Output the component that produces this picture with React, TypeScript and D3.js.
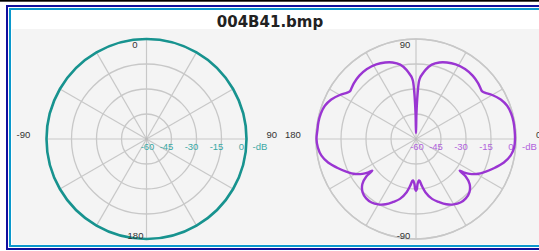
import React from "react";
import * as d3 from "d3";

const title = "004B41.bmp";
const ringTicks = [-60, -45, -30, -15, 0];

// Left chart: constant 0 dB all around (degrees clockwise from top)
const leftAngles = [0, 30, 60, 90, 120, 150, 180, 210, 240, 270, 300, 330];
const leftDb = [0, 0, 0, 0, 0, 0, 0, 0, 0, 0, 0, 0];
const leftLabels = ["0", "90", "180", "-90"];

// Right chart: degrees counter-clockwise from right
const rightAngles = [
  -175, -170, -165, -160, -155, -150, -147, -145, -144, -143, -140, -135, -130, -125, -120, -115, -110, -105, -100, -97, -95, -94, -92, -91,
  -90, -89, -88, -86, -85, -83, -80, -75, -70, -65, -60, -55, -50, -45, -40, -37, -36, -35, -33, -30, -25, -20, -15, -10, -5,
  0, 5, 10, 15, 20, 25, 30, 34, 36, 38, 42, 48, 55, 62, 68, 73, 78, 82, 85, 86, 87, 88, 89,
  90, 91, 92, 93, 94, 95, 98, 102, 107, 112, 118, 125, 132, 138, 142, 144, 146, 150, 155, 160, 165, 170, 175, 180,
];
const rightDb = [
  -0.9, -2.4, -5.4, -9.6, -13.8, -18, -21.6, -25.2, -27.6, -22.8, -18, -14.7, -13.5, -13.5, -14.7, -16.8, -19.8, -22.8, -27.6, -31.8, -34.8, -35.1, -33, -30,
  -28.8, -30, -33, -35.1, -34.8, -31.8, -27.6, -22.8, -19.8, -16.8, -14.7, -13.5, -13.5, -14.7, -18, -22.8, -27.6, -25.2, -21.6, -18, -13.8, -9.6, -5.4, -2.4, -0.9,
  -0.6, -0.6, -0.6, -0.9, -1.8, -3.9, -7.2, -10.2, -11.1, -10.8, -9.9, -9, -8.7, -9.3, -10.5, -12, -14.4, -18, -21.6, -22.8, -25.2, -33, -45,
  -56.4, -45, -33, -25.2, -22.8, -21.6, -18, -14.4, -12, -10.5, -9.3, -8.7, -9, -9.9, -10.8, -11.1, -10.2, -7.2, -3.9, -1.8, -0.9, -0.6, -0.6, -0.3,
];
const rightLabels = ["90", "0", "-90", "180"];

const R = 100;
const rScale = d3.scaleLinear().domain([-60, 0]).range([0, R]);
const spokes = d3.range(0, 360, 30);

function Grid({ cx, cy, color }: { cx: number; cy: number; color: string }) {
  return (
    <g transform={`translate(${cx},${cy})`}>
      {ringTicks.slice(1).map((t) => (
        <circle key={t} r={rScale(t)} fill="none" stroke="#c8c8c8" strokeWidth={1.3} />
      ))}
      {spokes.map((a) => {
        const rad = (a * Math.PI) / 180;
        return (
          <line key={a} x1={0} y1={0} x2={R * Math.cos(rad)} y2={R * Math.sin(rad)} stroke="#c8c8c8" strokeWidth={1.2} />
        );
      })}
      <circle r={1.5} fill="#bbb" />
      {ringTicks.map((t) => (
        <text
          key={t}
          x={t === -60 ? 1 : rScale(t) - 5}
          y={11}
          textAnchor="middle"
          fontFamily="Liberation Sans, Arial, sans-serif"
          fontSize={9.5}
          fill={color}
        >
          {t}
        </text>
      ))}
      <text x={106} y={11} fontFamily="Liberation Sans, Arial, sans-serif" fontSize={9.5} fill={color}>
        -dB
      </text>
    </g>
  );
}

export default function App() {
  const lcx = 146.5, lcy = 139, rcx = 416, rcy = 139;
  const leftLine = d3
    .lineRadial<number>()
    .angle((_, i) => (leftAngles[i] * Math.PI) / 180)
    .radius((d) => rScale(d))
    .curve(d3.curveCardinalClosed.tension(0));
  const rightLine = d3
    .lineRadial<number>()
    .angle((_, i) => ((90 - rightAngles[i]) * Math.PI) / 180)
    .radius((d) => rScale(d))
    .curve(d3.curveCatmullRomClosed.alpha(0.5));
  const lab = { fontFamily: "Liberation Sans, Arial, sans-serif", fontSize: 9.5, fill: "#333" };
  const teal = "#17938f";
  const purple = "#9a35d2";
  return (
    <svg width={539} height={251} style={{ position: "absolute", left: 0, top: 0 }}>
      <rect x={0} y={0} width={539} height={251} fill="#fff" />
      <rect x={0} y={0} width={539} height={1.7} fill="#000" />
      <rect x={12} y={29} width={527} height={215.5} fill="#f4f4f4" />
      <rect x={10} y={9} width={560} height={237} fill="none" stroke="#0a98cc" strokeWidth={2} />
      <rect x={7} y={6} width={570} height={243} fill="none" stroke="#10109e" strokeWidth={2} />
      <text x={270} y={27} textAnchor="middle" fontFamily="DejaVu Sans, Verdana, sans-serif" fontWeight="bold" fontSize={15} fill="#222">
        {title}
      </text>

      <Grid cx={lcx} cy={lcy} color="#3aa8a4" />
      <path d={leftLine(leftDb) || ""} transform={`translate(${lcx},${lcy})`} fill="none" stroke={teal} strokeWidth={2.6} />
      <text x={lcx - 11.5} y={47.5} textAnchor="middle" {...lab}>{leftLabels[0]}</text>
      <text x={lcx - 11} y={238.5} textAnchor="middle" {...lab}>{leftLabels[2]}</text>
      <text x={16.5} y={137.5} {...lab}>{leftLabels[3]}</text>
      <text x={266.5} y={137.5} {...lab}>{leftLabels[1]}</text>

      <Grid cx={rcx} cy={rcy} color="#b062dc" />
      <circle cx={rcx} cy={rcy} r={R} fill="none" stroke="#c8c8c8" strokeWidth={1.5} />
      <path d={rightLine(rightDb) || ""} transform={`translate(${rcx},${rcy})`} fill="none" stroke={purple} strokeWidth={2.4} strokeLinejoin="round" />
      <text x={rcx - 11} y={48} textAnchor="middle" {...lab}>{rightLabels[0]}</text>
      <text x={rcx - 12.5} y={238.5} textAnchor="middle" {...lab}>{rightLabels[2]}</text>
      <text x={285} y={137.5} {...lab}>{rightLabels[3]}</text>
      <text x={536} y={137.5} {...lab}>{rightLabels[1]}</text>
    </svg>
  );
}
